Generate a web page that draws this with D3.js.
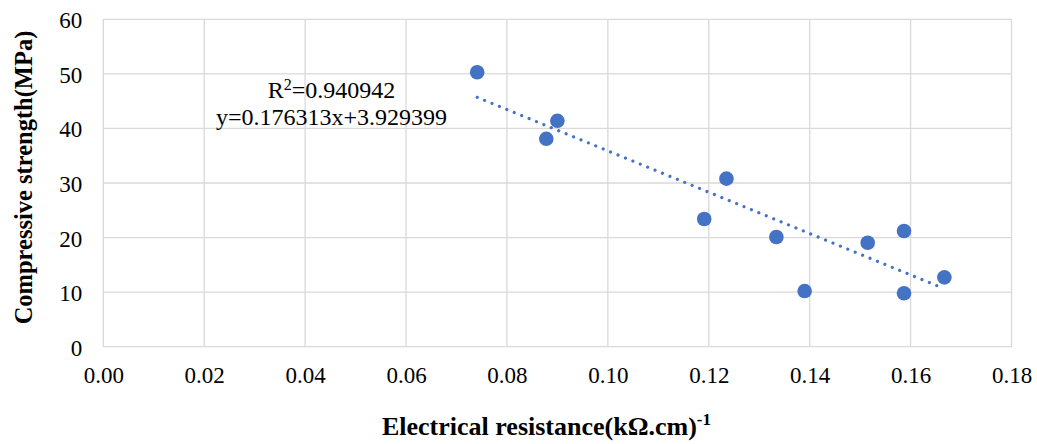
<!DOCTYPE html>
<html>
<head>
<meta charset="utf-8">
<script src="https://cdn.jsdelivr.net/npm/d3@7"></script>
</head>
<body style="margin:0; background:#fff">
<svg id="chart" width="1037" height="444"></svg>
<script>
// values
let resistance = [0.0741, 0.0900, 0.0878, 0.1235, 0.1191, 0.1334, 0.1390, 0.1515, 0.1587, 0.1587, 0.1667];
let strength = [50.3, 41.4, 38.1, 30.8, 23.4, 20.1, 10.2, 19.05, 21.2, 9.8, 12.7];

// dotted trend line, ends as drawn
let trendX = [0.0741, 0.1657];
let trendY = [45.7, 11.0];

let xTicks = [0, 0.02, 0.04, 0.06, 0.08, 0.10, 0.12, 0.14, 0.16, 0.18];
let yTicks = [0, 10, 20, 30, 40, 50, 60];

let noteLines = ["0.940942", "y=0.176313x+3.929399"];

const width = 1037;
const height = 444;
const serif = "'Liberation Serif', 'Times New Roman', serif";

const margin = {
  top: 19.3,
  bottom: 97.3,
  left: 103.3,
  right: 25.5
};

let drawScatter = function() {
  let svg = d3.select("svg#chart");

  let plotWidth = width - margin.left - margin.right;
  let plotHeight = height - margin.top - margin.bottom;

  let xScale = d3.scaleLinear().domain([0, 0.18]).range([0, plotWidth]);
  let yScale = d3.scaleLinear().domain([0, 60]).range([plotHeight, 0]);

  const plot = svg.append("g").attr("id", "plot")
    .attr("transform", translate(margin.left, margin.top));

  // gridlines
  plot.append("g").selectAll("line")
    .data(xTicks)
    .join("line")
    .attr("x1", d => xScale(d)).attr("x2", d => xScale(d))
    .attr("y1", 0).attr("y2", plotHeight)
    .attr("stroke", "#d9d9d9").attr("stroke-width", 1.3);

  plot.append("g").selectAll("line")
    .data(yTicks)
    .join("line")
    .attr("x1", 0).attr("x2", plotWidth)
    .attr("y1", d => yScale(d)).attr("y2", d => yScale(d))
    .attr("stroke", "#d9d9d9").attr("stroke-width", 1.3);

  // axes, ticks hidden, labels only
  let xAxis = d3.axisBottom(xScale).tickValues(xTicks).tickFormat(d3.format(".2f"))
    .tickSize(0).tickPadding(0);
  let xGroup = plot.append("g").attr("transform", translate(0, plotHeight)).call(xAxis);
  xGroup.select(".domain").remove();
  xGroup.selectAll("text").attr("dy", null).attr("y", 36)
    .style("font-family", serif).style("font-size", "23px").attr("fill", "#000");

  let yAxis = d3.axisLeft(yScale).tickValues(yTicks).tickFormat(d3.format("d"))
    .tickSize(0).tickPadding(0);
  let yGroup = plot.append("g").call(yAxis);
  yGroup.select(".domain").remove();
  yGroup.selectAll("text").attr("dy", null).attr("x", -21).attr("y", 8.5)
    .style("font-family", serif).style("font-size", "23px").attr("fill", "#000");

  // trend line
  let trend = trendX.map((x, i) => [x, trendY[i]]);
  plot.append("path")
    .datum(trend)
    .attr("d", d3.line().x(d => xScale(d[0])).y(d => yScale(d[1])))
    .attr("fill", "none")
    .attr("stroke", "#4472c4")
    .attr("stroke-width", 3.2)
    .attr("stroke-linecap", "round")
    .attr("stroke-dasharray", "0.01 8");

  // points
  plot.append("g").selectAll("circle")
    .data(resistance)
    .join("circle")
    .attr("cx", d => xScale(d))
    .attr("cy", (d, i) => yScale(strength[i]))
    .attr("r", 7.3)
    .attr("fill", "#4472c4");

  // equation label
  const note = svg.append("text").attr("text-anchor", "middle")
    .style("font-family", serif).style("font-size", "24px");
  const r2 = note.append("tspan").attr("x", 331.5).attr("y", 98.3);
  r2.append("tspan").text("R");
  r2.append("tspan").text("2").style("font-size", "16px").attr("dy", -8);
  r2.append("tspan").text("=" + noteLines[0]).attr("dy", 8);
  note.append("tspan").attr("x", 331.5).attr("y", 125).text(noteLines[1]);

  // axis titles
  const xTitle = svg.append("text")
    .style("font-family", serif).style("font-size", "26px").style("font-weight", "bold")
    .attr("x", 546.5)
    .attr("y", 435)
    .attr("text-anchor", "middle");
  xTitle.append("tspan").text("Electrical resistance(kΩ.cm)");
  xTitle.append("tspan").text("-1").style("font-size", "17px").attr("dy", -10);

  const yTitleGroup = svg.append("g")
    .attr("transform", translate(32, 177.5));
  yTitleGroup.append("text")
    .style("font-family", serif).style("font-size", "24.5px").style("font-weight", "bold")
    .attr("text-anchor", "middle")
    .attr("transform", "rotate(-90)")
    .text("Compressive strength(MPa)");
};

drawScatter();

/*
 * midpoint of a 2 element range
 */
function midpoint(range) {
  return range[0] + (range[1] - range[0]) / 2.0;
}

/*
 * translate string for a transform attribute
 */
function translate(x, y) {
  return "translate(" + String(x) + "," + String(y) + ")";
}
</script>
</body>
</html>
